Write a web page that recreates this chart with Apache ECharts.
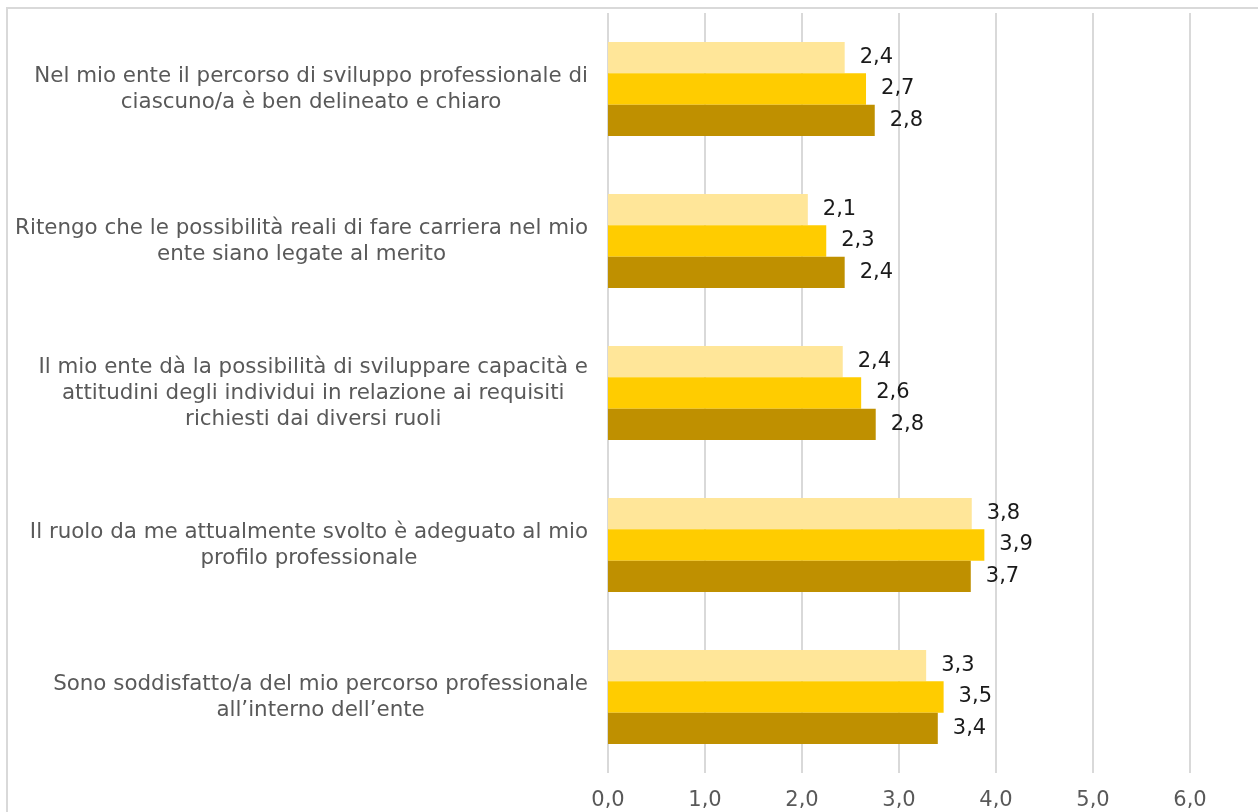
<!DOCTYPE html>
<html>
<head>
<meta charset="utf-8">
<title>Sviluppo professionale</title>
<script src="https://cdn.jsdelivr.net/npm/echarts@6/dist/echarts.min.js"></script>
<style>
  html, body { margin: 0; padding: 0; background: #ffffff; }
  #chart { width: 1258px; height: 812px; }
</style>
</head>
<body>
<div id="chart"></div>
<script>
// Statements (line breaks as they wrap on the axis)
const categories = [
  'Nel mio ente il percorso di sviluppo professionale di\nciascuno/a è ben delineato e chiaro',
  'Ritengo che le possibilità reali di fare carriera nel mio\nente siano legate al merito',
  'Il mio ente dà la possibilità di sviluppare capacità e\nattitudini degli individui in relazione ai requisiti\nrichiesti dai diversi ruoli',
  'Il ruolo da me attualmente svolto è adeguato al mio\nprofilo professionale',
  'Sono soddisfatto/a del mio percorso professionale\nall’interno dell’ente'
];

// Average scores for the three groups (top, middle, bottom bar of each statement)
const seriesLight = [2.44, 2.06, 2.42, 3.75, 3.28];
const seriesGold  = [2.66, 2.25, 2.61, 3.88, 3.46];
const seriesDark  = [2.75, 2.44, 2.76, 3.74, 3.40];

// Value axis ticks
const xTicks = [0, 1, 2, 3, 4, 5, 6];

const FONT = '"DejaVu Sans"';
const fmt1 = v => v.toFixed(1).replace('.', ',');

const chart = echarts.init(document.getElementById('chart'), null, { renderer: 'canvas' });

const labelStyle = {
  show: true,
  position: 'right',
  distance: 15,
  color: '#1a1a1a',
  fontFamily: FONT,
  fontSize: 21,
  formatter: p => fmt1(p.value)
};

function barSeries(name, data, color) {
  return {
    name: name,
    type: 'bar',
    data: data,
    barGap: '0%',
    barCategoryGap: '38%',
    itemStyle: { color: color },
    label: labelStyle,
    emphasis: { disabled: true }
  };
}

chart.setOption({
  animation: false,
  backgroundColor: '#ffffff',
  grid: { left: 608, top: 13, width: 582, height: 760, containLabel: false },
  graphic: [{
    type: 'rect',
    shape: { x: 7, y: 8, width: 1400, height: 1000 },
    style: { fill: 'none', stroke: '#d9d9d9', lineWidth: 2 },
    silent: true,
    z: -1
  }],
  xAxis: {
    type: 'value',
    min: xTicks[0],
    max: xTicks[xTicks.length - 1],
    interval: 1,
    axisLine: { show: false },
    axisTick: { show: false },
    splitLine: { show: true, lineStyle: { color: '#d9d9d9', width: 2 } },
    axisLabel: {
      margin: 17,
      color: '#595959',
      fontFamily: FONT,
      fontSize: 21,
      formatter: v => fmt1(v)
    }
  },
  yAxis: {
    type: 'category',
    inverse: true,
    data: categories,
    axisLine: { show: false },
    axisTick: { show: false },
    splitLine: { show: false },
    axisLabel: {
      margin: 20,
      interval: 0,
      formatter: v => v.split('\n').map(l => '{c|' + l + '}').join('\n'),
      rich: {
        c: {
          align: 'center',
          color: '#595959',
          fontFamily: FONT,
          fontSize: 21.4,
          lineHeight: 26
        }
      }
    }
  },
  series: [
    barSeries('A', seriesLight, '#FFE699'),
    barSeries('B', seriesGold, '#FFCC00'),
    barSeries('C', seriesDark, '#BF9000')
  ]
});
</script>
</body>
</html>
